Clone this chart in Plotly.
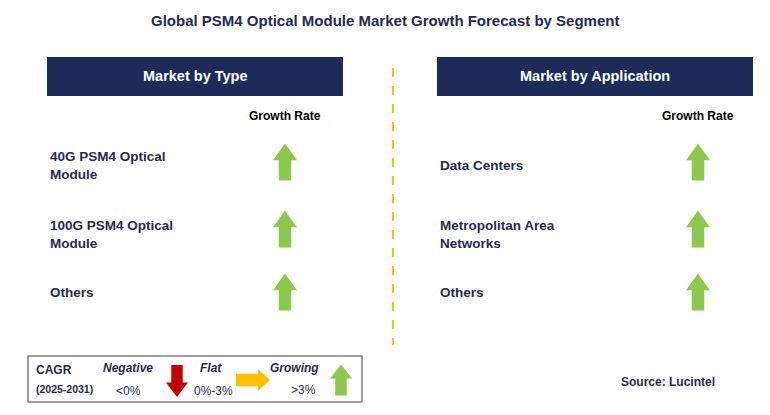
import plotly.graph_objects as go

title = "Global PSM4 Optical Module Market Growth Forecast by Segment"
panels = ["Market by Type", "Market by Application"]
type_segments = ["40G PSM4 Optical<br>Module", "100G PSM4 Optical<br>Module", "Others"]
type_growth = ["up", "up", "up"]
app_segments = ["Data Centers", "Metropolitan Area<br>Networks", "Others"]
app_growth = ["up", "up", "up"]
row_y = [162, 229, 292]
text_y = [165, 234, 292]
source = "Source: Lucintel"

NAVY = "#1c2b5a"
GREEN = "#8cc84b"
fig = go.Figure()
shapes, ann = [], []

def up_arrow(cx, cy, w=24, h=37, color=GREEN):
    top, bot = cy - h/2, cy + h/2
    hb = top + h*0.45
    s = w*0.26
    p = (f"M{cx},{top} L{cx+w/2},{hb} L{cx+s},{hb} L{cx+s},{bot} "
         f"L{cx-s},{bot} L{cx-s},{hb} L{cx-w/2},{hb} Z")
    return dict(type="path", path=p, fillcolor=color, line=dict(width=0), xref="x", yref="y")

def down_arrow(cx, cy, w=22, h=32, color="#c00000"):
    top, bot = cy - h/2, cy + h/2
    hb = bot - h*0.45
    s = w*0.26
    p = (f"M{cx},{bot} L{cx+w/2},{hb} L{cx+s},{hb} L{cx+s},{top} "
         f"L{cx-s},{top} L{cx-s},{hb} L{cx-w/2},{hb} Z")
    return dict(type="path", path=p, fillcolor=color, line=dict(width=0), xref="x", yref="y")

def right_arrow(cx, cy, w=34, h=22, color="#ffc000"):
    l, r = cx - w/2, cx + w/2
    hb = r - w*0.35
    s = h*0.28
    p = (f"M{r},{cy} L{hb},{cy-h/2} L{hb},{cy-s} L{l},{cy-s} "
         f"L{l},{cy+s} L{hb},{cy+s} L{hb},{cy+h/2} Z")
    return dict(type="path", path=p, fillcolor=color, line=dict(width=0), xref="x", yref="y")

ann.append(dict(x=385, y=20, text=f"<b>{title}</b>", showarrow=False,
                font=dict(size=15, color=NAVY)))
boxes = [(47, 343), (437, 753)]
for (x0, x1), name in zip(boxes, panels):
    shapes.append(dict(type="rect", x0=x0, x1=x1, y0=57, y1=96, fillcolor=NAVY,
                       line=dict(width=0), xref="x", yref="y"))
    ann.append(dict(x=(x0+x1)/2, y=76, text=f"<b>{name}</b>", showarrow=False,
                    font=dict(size=14.5, color="white")))

for segs, growth, tx, ax in [(type_segments, type_growth, 48, 285),
                             (app_segments, app_growth, 438, 698)]:
    ann.append(dict(x=ax, y=116, text="<b>Growth Rate</b>", showarrow=False,
                    font=dict(size=12, color="black")))
    for s, g, y, ty in zip(segs, growth, row_y, text_y):
        ann.append(dict(x=tx, y=ty, text=f"<b>{s}</b>", showarrow=False, xanchor="left",
                        align="left", font=dict(size=13.5, color=NAVY)))
        shapes.append(up_arrow(ax, y))

shapes.append(dict(type="line", x0=393, x1=393, y0=68, y1=345, xref="x", yref="y",
                   line=dict(color="#ffc000", width=2, dash="dash")))

# legend box
shapes.append(dict(type="rect", x0=28, x1=362, y0=356, y1=402, xref="x", yref="y",
                   line=dict(color="#808080", width=1.5), fillcolor="white"))
lf = dict(size=12, color=NAVY)
ann += [
    dict(x=34, y=370, text="<b>CAGR</b>", showarrow=False, xanchor="left", font=lf),
    dict(x=34, y=389, text="<b>(2025-2031)</b>", showarrow=False, xanchor="left", font=dict(size=10.5, color=NAVY)),
    dict(x=128, y=368, text="<b><i>Negative</i></b>", showarrow=False, font=lf),
    dict(x=128, y=391, text="<0%", showarrow=False, font=lf),
    dict(x=211, y=368, text="<b><i>Flat</i></b>", showarrow=False, font=lf),
    dict(x=213, y=391, text="0%-3%", showarrow=False, font=lf),
    dict(x=294, y=368, text="<b><i>Growing</i></b>", showarrow=False, font=lf),
    dict(x=303, y=390, text=">3%", showarrow=False, font=lf),
    dict(x=668, y=382, text=f"<b>{source}</b>", showarrow=False, font=dict(size=12, color=NAVY)),
]
shapes += [down_arrow(177, 381, w=22, h=32), right_arrow(253, 380), up_arrow(341, 380, w=22, h=31)]

# page has an 8px body offset; shift the data window to compensate
fig.update_layout(width=770, height=415, margin=dict(l=0, r=0, t=0, b=0),
                  plot_bgcolor="white", paper_bgcolor="white", shapes=shapes, annotations=ann,
                  font=dict(family="Arial, Liberation Sans"),
                  xaxis=dict(range=[8, 778], visible=False, fixedrange=True),
                  yaxis=dict(range=[423, 8], visible=False, fixedrange=True),
                  showlegend=False)
fig.write_html("out.html", config={"displayModeBar": False})
